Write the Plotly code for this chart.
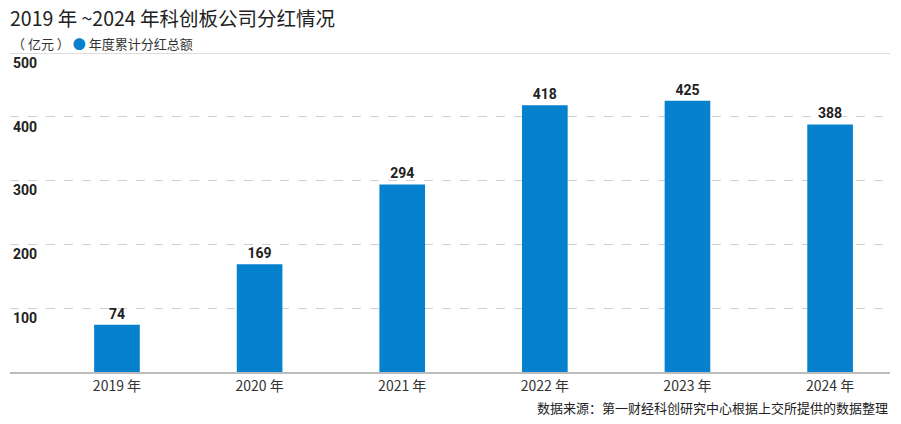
import plotly.graph_objects as go

years = ["2019 年", "2020 年", "2021 年", "2022 年", "2023 年", "2024 年"]
dividends = [74, 169, 294, 418, 425, 388]
y_ticks = [100, 200, 300, 400, 500]

title_text = "2019 年 ~2024 年科创板公司分红情况"
unit_text = "（ 亿元 ）"
series_name = "年度累计分红总额"
source_text = "数据来源：第一财经科创研究中心根据上交所提供的数据整理"

BLUE = "#0681CD"
CJK = "Noto Sans CJK SC"
NUM = "Roboto"

# page body has an 8px margin; figure sized so the whole view matches 901x424
W, H = 885, 408
L, R, T, B = 2, 3, 45, 44
PH = H - T - B

fig = go.Figure()
fig.add_trace(go.Bar(
    x=years, y=dividends, width=0.32, name=series_name,
    marker=dict(color=BLUE, line=dict(width=0)),
    text=dividends, textposition="outside", cliponaxis=False,
    textfont=dict(family=NUM, size=14, color="#222222", weight="bold"),
    showlegend=False,
))

legend_html = (unit_text + " <span style='color:" + BLUE + "'>●</span> " + series_name)

fig.update_layout(
    width=W, height=H,
    margin=dict(l=L, r=R, t=T, b=B),
    paper_bgcolor="white", plot_bgcolor="white",
    title=dict(text=title_text, x=0, xref="paper", xanchor="left", y=1 - 11 / H,
               yref="container", yanchor="middle", pad=dict(l=0, t=0, b=0),
               font=dict(family=CJK, size=19.5, color="#222222")),
    bargap=0.6,
    xaxis=dict(type="category", range=[-0.75, 5.42], showgrid=False, zeroline=False,
               showline=True, linecolor="#BBBBBB", linewidth=2, ticks="",
               tickfont=dict(family=CJK, size=14, color="#333333")),
    yaxis=dict(range=[0, 500], tickvals=y_ticks, showgrid=True, gridcolor="#CFCFCF",
               griddash="dash", gridwidth=1, zeroline=False, showline=False,
               ticklabelposition="inside bottom", ticks="",
               tickfont=dict(family=NUM, size=14, color="#222222", weight="bold")),
    annotations=[
        dict(text=legend_html, xref="paper", yref="paper", x=0, y=1 + 9 / PH,
             xanchor="left", yanchor="middle", showarrow=False,
             font=dict(family=CJK, size=13, color="#333333")),
        dict(text=source_text, xref="paper", yref="paper", x=1, y=-35 / PH,
             xanchor="right", yanchor="middle", showarrow=False,
             font=dict(family=CJK, size=13, color="#222222")),
    ],
    shapes=[dict(type="line", xref="paper", yref="y", x0=0, x1=1, y0=500, y1=500,
                 line=dict(color="#BBBBBB", width=1), layer="above")],
)

fig.write_html("out.html")
